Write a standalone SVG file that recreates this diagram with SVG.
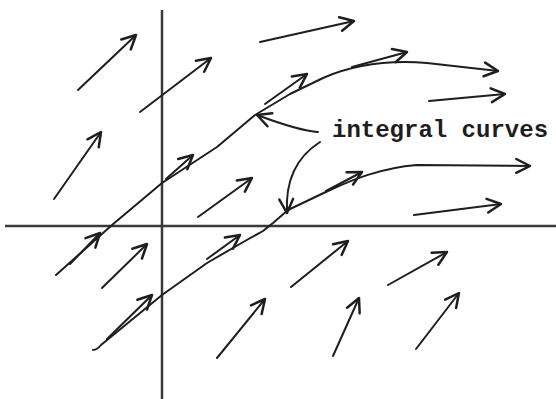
<svg xmlns="http://www.w3.org/2000/svg" width="556" height="399" viewBox="0 0 556 399">
<defs>
<marker id="ah" markerUnits="userSpaceOnUse" markerWidth="20" markerHeight="20" viewBox="-14 -8 16 16" refX="0" refY="0" orient="auto">
<path d="M-11,-5.5 L0,0 L-11,5.5" fill="none" stroke="#1e1e1e" stroke-width="2" stroke-linecap="round" stroke-linejoin="round"/>
</marker>
<style>
.ax{stroke:#3a3a3a;stroke-width:2.5;fill:none}
.ar{stroke:#1e1e1e;stroke-width:2;fill:none;stroke-linecap:round;marker-end:url(#ah)}
.cv{stroke:#1e1e1e;stroke-width:2;fill:none;stroke-linejoin:round;stroke-linecap:round}
.lb{font-family:"Liberation Mono","Courier New",monospace;font-weight:bold;font-size:24px;fill:#1e1e1e}
</style>
</defs>
<rect width="556" height="399" fill="#fff"/>
<g id="axes">
<line class="ax" x1="162" y1="10" x2="162" y2="399"/>
<line class="ax" x1="5" y1="226" x2="556" y2="226"/>
</g>
<g id="field">
<g id="v1"><line class="ar" x1="78" y1="90" x2="136" y2="35"/></g>
<g id="v2"><line class="ar" x1="140" y1="112" x2="211" y2="58"/></g>
<g id="v3"><line class="ar" x1="260" y1="42" x2="354" y2="21"/></g>
<g id="v4"><line class="ar" x1="54" y1="199" x2="101" y2="132"/></g>
<g id="v5"><line class="ar" x1="198" y1="217" x2="252" y2="178"/></g>
<g id="v6"><line class="ar" x1="429" y1="101" x2="505" y2="94"/></g>
<g id="v7"><line class="ar" x1="414" y1="215" x2="501" y2="204"/></g>
<g id="v8"><line class="ar" x1="102" y1="288" x2="147" y2="244"/></g>
<g id="v9"><line class="ar" x1="291" y1="287" x2="348" y2="241"/></g>
<g id="v10"><line class="ar" x1="388" y1="285" x2="447" y2="252"/></g>
<g id="v11"><line class="ar" x1="333" y1="356" x2="359" y2="298"/></g>
<g id="v12"><line class="ar" x1="416" y1="349" x2="459" y2="293"/></g>
<g id="v13"><line class="ar" x1="217" y1="358" x2="265" y2="299"/></g>
</g>
<g id="curve-upper">
<path class="cv" d="M56,275 L112,225 L162,183 L217,147 L255,115 L290,94 L323,78 C355,64 390,60 427,63 L498,71" marker-end="url(#ah)"/>
<line class="ar" x1="70" y1="264" x2="100" y2="233"/>
<line class="ar" x1="166" y1="179" x2="193" y2="155"/>
<line class="ar" x1="265" y1="104" x2="307" y2="74"/>
<line class="ar" x1="352" y1="67" x2="407" y2="52"/>
</g>
<g id="curve-lower">
<path class="cv" d="M93,350 Q97,350 101,345 L162,295 L207,263 L245,241 L263,231 L273,223 L288,210 L330,190 C352,180 380,168 417,165 L530,166" marker-end="url(#ah)"/>
<line class="ar" x1="107" y1="339" x2="152" y2="295"/>
<line class="ar" x1="207" y1="259" x2="240" y2="235"/>
<line class="ar" x1="326" y1="191" x2="362" y2="172"/>
</g>
<g id="label">
<text class="lb" x="332" y="137">integral curves</text>
<path class="cv" d="M318,132 Q300,131 257,115" marker-end="url(#ah)"/>
<path class="cv" d="M320,142 C298,156 285,178 287,213" marker-end="url(#ah)"/>
</g>
</svg>
